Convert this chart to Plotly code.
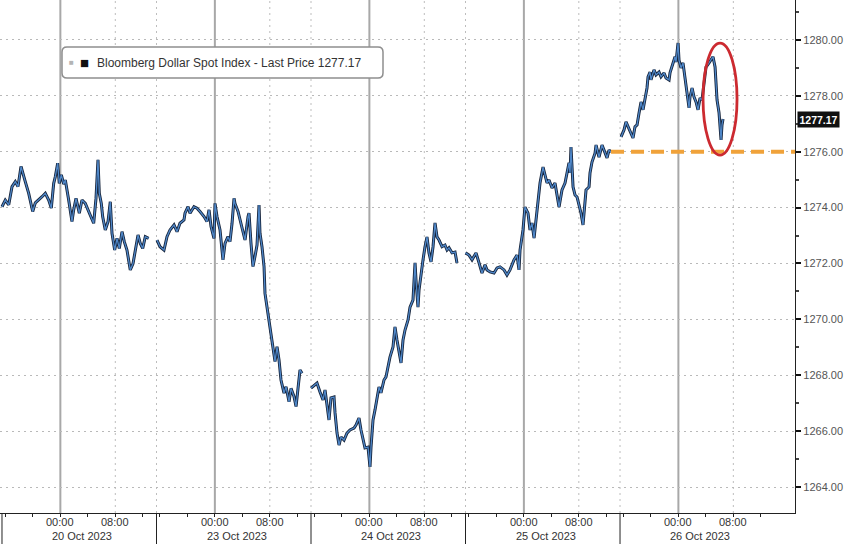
import plotly.graph_objects as go

# ---------------- data ----------------
# Bloomberg Dollar Spot Index, intraday. Hours are measured from each day's session open
# (sessions are drawn 22.5 h wide; 00:00 falls 8.5 h after the open).
day_labels = ["20 Oct 2023", "23 Oct 2023", "24 Oct 2023", "25 Oct 2023", "26 Oct 2023"]

oct20_hours = [0.0, 0.48, 0.98, 1.46, 1.94, 2.33, 2.77, 3.01, 3.39, 3.89, 4.47, 4.85, 5.34, 5.83, 6.31,
               6.80, 7.18, 7.53, 7.76, 8.11, 8.34, 8.64, 8.99, 9.22, 9.71, 10.19, 10.44, 10.78, 11.26, 11.65,
               12.13, 12.63, 13.00, 13.35, 13.69, 13.98, 14.17, 14.46, 14.66, 15.04, 15.44, 15.77, 16.02, 16.41,
               16.75, 17.08, 17.48, 17.81, 18.20, 18.68, 19.08, 19.41, 19.81, 20.14, 20.49, 20.87, 21.36]
oct20_price = [1274.03, 1274.27, 1274.10, 1274.75, 1274.93, 1274.75, 1275.47, 1275.24, 1274.93, 1274.51,
               1273.86, 1274.17, 1274.27, 1274.39, 1274.51, 1274.27, 1273.98, 1274.87, 1275.10, 1275.59,
               1274.87, 1275.17, 1274.84, 1274.99, 1274.27, 1273.50, 1273.92, 1274.33, 1273.80, 1274.27,
               1274.15, 1273.86, 1273.62, 1273.44, 1274.33, 1275.71, 1274.51, 1274.15, 1273.68, 1273.20,
               1273.50, 1274.21, 1273.08, 1272.48, 1272.90, 1272.54, 1273.14, 1272.78, 1272.48, 1271.77,
               1272.00, 1272.48, 1273.02, 1272.72, 1272.54, 1272.96, 1272.90]

oct23_hours = [0.07, 0.51, 1.09, 1.53, 1.97, 2.55, 2.99, 3.42, 4.00, 4.15, 4.59, 4.88, 5.46, 5.90, 6.33,
               6.92, 7.35, 7.65, 7.94, 8.37, 8.52, 8.81, 9.25, 9.54, 9.68, 9.98, 10.41, 10.70, 11.00, 11.29,
               11.43, 11.87, 12.16, 12.60, 12.89, 13.33, 13.47, 13.76, 14.05, 14.34, 14.64, 14.93, 15.07, 15.36,
               15.66, 15.80, 16.09, 16.38, 16.53, 16.97, 17.26, 17.55, 17.84, 18.13, 18.57, 18.86, 19.30, 19.59,
               20.02, 20.32, 20.61, 20.90, 21.19]
oct23_price = [1272.84, 1272.60, 1272.48, 1272.96, 1273.20, 1273.38, 1273.14, 1273.44, 1273.56, 1273.80,
               1274.03, 1273.80, 1274.03, 1273.98, 1273.86, 1273.68, 1273.50, 1273.92, 1273.32, 1272.90,
               1274.15, 1273.68, 1273.20, 1272.54, 1272.13, 1272.72, 1272.96, 1272.78, 1273.44, 1274.33,
               1274.15, 1273.86, 1273.56, 1273.20, 1272.84, 1273.68, 1273.80, 1272.72, 1271.89, 1272.25,
               1272.66, 1274.09, 1273.08, 1272.60, 1271.89, 1270.93, 1270.45, 1269.98, 1269.74, 1269.14,
               1268.49, 1269.02, 1268.55, 1267.83, 1267.36, 1267.59, 1267.05, 1267.53, 1267.24, 1266.88,
               1267.59, 1268.19, 1268.07]

oct24_hours = [0.00, 0.44, 0.87, 1.31, 1.75, 2.04, 2.48, 2.62, 2.91, 3.35, 3.50, 3.79, 4.08, 4.37, 4.81,
               5.24, 5.68, 6.26, 6.55, 6.99, 7.28, 7.57, 7.86, 8.30, 8.59, 8.74, 9.03, 9.32, 9.61, 9.90,
               10.19, 10.63, 10.92, 11.21, 11.50, 11.94, 12.23, 12.52, 12.82, 13.11, 13.40, 13.69, 14.13, 14.42,
               14.85, 15.15, 15.29, 15.58, 15.73, 16.02, 16.31, 16.60, 16.89, 17.18, 17.48, 17.77, 18.06, 18.35,
               18.64, 19.08, 19.51, 19.81, 20.10, 20.53, 20.97, 21.26]
oct24_price = [1267.54, 1267.65, 1267.72, 1267.40, 1267.12, 1267.47, 1266.65, 1266.40, 1267.19, 1267.22,
               1266.65, 1265.93, 1265.50, 1265.79, 1265.68, 1265.93, 1266.04, 1266.11, 1266.22, 1266.47,
               1266.04, 1265.68, 1265.40, 1265.43, 1264.72, 1265.43, 1266.40, 1266.76, 1267.12, 1267.58,
               1267.37, 1267.83, 1267.94, 1268.30, 1268.65, 1269.01, 1269.73, 1269.26, 1268.90, 1268.44,
               1269.26, 1269.62, 1269.98, 1270.44, 1270.69, 1272.02, 1271.41, 1270.44, 1271.05, 1271.66,
               1272.13, 1272.60, 1272.95, 1272.38, 1272.06, 1272.60, 1273.45, 1272.95, 1272.84, 1272.60,
               1272.66, 1272.48, 1272.56, 1272.38, 1272.41, 1272.02]

oct25_hours = [0.00, 0.51, 0.95, 1.53, 1.97, 2.40, 2.84, 3.13, 3.57, 4.15, 4.59, 5.02, 5.61, 6.04, 6.48,
               7.06, 7.50, 7.79, 7.94, 8.37, 8.66, 9.10, 9.39, 9.68, 9.98, 10.27, 10.56, 10.85, 11.29, 11.58,
               11.87, 12.16, 12.60, 13.03, 13.33, 13.62, 14.05, 14.49, 14.78, 15.07, 15.22, 15.36, 15.66, 15.95,
               16.24, 16.53, 16.82, 17.11, 17.40, 17.55, 17.99, 18.13, 18.42, 18.86, 19.01, 19.44, 19.88, 20.31,
               20.61, 20.90, 21.19]
oct25_price = [1272.38, 1272.30, 1272.13, 1272.38, 1272.02, 1271.66, 1271.95, 1271.77, 1271.70, 1271.66,
               1271.84, 1271.88, 1271.77, 1271.59, 1271.77, 1272.13, 1272.30, 1271.77, 1272.48, 1273.20,
               1274.02, 1273.80, 1273.20, 1273.45, 1272.91, 1273.56, 1274.17, 1274.88, 1275.45, 1275.10,
               1274.88, 1274.99, 1274.70, 1274.88, 1274.38, 1274.02, 1274.63, 1274.88, 1275.24, 1275.60,
               1275.24, 1276.17, 1274.74, 1274.45, 1274.38, 1274.10, 1273.80, 1273.38, 1274.10, 1274.63,
               1274.74, 1275.24, 1275.63, 1275.95, 1276.24, 1275.81, 1276.24, 1275.99, 1275.78, 1276.06,
               1275.99]

oct26_hours = [0.15, 0.58, 0.87, 1.17, 1.46, 1.89, 2.18, 2.48, 2.77, 3.06, 3.35, 3.64, 3.93, 4.08, 4.37,
               4.51, 4.95, 5.24, 5.68, 5.97, 6.41, 6.70, 7.14, 7.28, 7.72, 8.01, 8.16, 8.45, 8.59, 8.88,
               9.17, 9.47, 9.76, 10.05, 10.19, 10.49, 10.78, 11.07, 11.36, 11.65, 11.94, 12.23, 12.52, 12.96,
               13.25, 13.54, 13.84, 13.98, 14.13, 14.42, 14.56, 14.71, 14.85, 15.00]
oct26_price = [1276.53, 1276.78, 1277.07, 1276.89, 1276.78, 1276.49, 1276.89, 1276.96, 1277.39, 1277.78,
               1277.50, 1277.85, 1278.28, 1278.68, 1278.85, 1278.57, 1278.93, 1278.75, 1278.85, 1278.68,
               1278.82, 1278.64, 1278.57, 1278.82, 1279.18, 1279.40, 1279.21, 1279.89, 1279.28, 1279.00,
               1279.18, 1278.57, 1277.96, 1277.57, 1277.96, 1278.28, 1277.96, 1277.78, 1277.50, 1277.92,
               1277.85, 1278.46, 1279.03, 1279.18, 1279.28, 1279.40, 1279.03, 1278.46, 1277.85, 1277.39,
               1276.89, 1276.42, 1276.96, 1277.17]

last_price = 1277.17
support_level = 1276.00
y_ticks = [1264, 1266, 1268, 1270, 1272, 1274, 1276, 1278, 1280]
time_tick_labels = ["00:00", "08:00"]
time_tick_offsets = [8.5, 16.5]          # hours after session open
minor_tick_offsets = [0.5, 4.5, 12.5, 20.5]

SESSION = 22.5

day_hours = [oct20_hours, oct23_hours, oct24_hours, oct25_hours, oct26_hours]
day_prices = [oct20_price, oct23_price, oct24_price, oct25_price, oct26_price]

xs, ys = [], []
for d, (hs, ps) in enumerate(zip(day_hours, day_prices)):
    n = min(len(hs), len(ps))
    xs += [d * SESSION + h for h in hs[:n]] + [None]
    ys += list(ps[:n]) + [None]

FONT = "Liberation Sans, Arial, sans-serif"
W, H = 848, 544
ML, MR, MT, MB = 0, 53, 0, 31
PW, PH = W - ML - MR, H - MT - MB

fig = go.Figure()
fig.add_trace(go.Scatter(x=xs, y=ys, mode="lines", line=dict(color="#15233a", width=3.0),
                         connectgaps=False, showlegend=False, hoverinfo="skip"))
fig.add_trace(go.Scatter(x=xs, y=ys, mode="lines", line=dict(color="#4f87c8", width=1.3),
                         connectgaps=False, showlegend=False))

tickvals, ticktext, minorvals = [], [], []
for d in range(len(day_labels)):
    for off, lab in zip(time_tick_offsets, time_tick_labels):
        tickvals.append(d * SESSION + off)
        ticktext.append(lab)
    for off in minor_tick_offsets:
        minorvals.append(d * SESSION + off)

x_lo = -0.29
x_hi = x_lo + PW / 6.867

shapes = []
for d in range(len(day_labels)):
    base = d * SESSION
    shapes.append(dict(type="line", xref="x", yref="paper", x0=base + 8.5, x1=base + 8.5, y0=0, y1=1,
                       line=dict(color="#a8a8a8", width=2), layer="below"))
    shapes.append(dict(type="line", xref="x", yref="paper", x0=base + 16.5, x1=base + 16.5, y0=0, y1=1,
                       line=dict(color="#bdbdbd", width=1, dash="2px,4px"), layer="below"))
    if d > 0:
        shapes.append(dict(type="line", xref="x", yref="paper", x0=base, x1=base, y0=0, y1=1,
                           line=dict(color="#bdbdbd", width=1, dash="2px,4px"), layer="below"))
    shapes.append(dict(type="line", xref="x", yref="paper", x0=base, x1=base, y0=0, y1=-MB / PH,
                       line=dict(color="#222", width=1), layer="above"))

shapes.append(dict(type="line", xref="x", yref="y", x0=3 * SESSION + oct25_hours[-1], x1=x_hi,
                   y0=support_level, y1=support_level,
                   line=dict(color="#f0a23a", width=4, dash="13px,7px"), layer="above"))
shapes.append(dict(type="circle", xref="x", yref="y", x0=4 * SESSION + 12.09, x1=4 * SESSION + 17.04,
                   y0=1275.88, y1=1279.89, line=dict(color="#cc2a30", width=2.8), layer="above"))
shapes.append(dict(type="path", xref="paper", yref="paper", xsizemode="pixel", ysizemode="pixel",
                   xanchor=0, yanchor=1,
                   path="M 67,-47 L 378,-47 Q 383,-47 383,-52 L 383,-73 Q 383,-78 378,-78 "
                        "L 67,-78 Q 62,-78 62,-73 L 62,-52 Q 62,-47 67,-47 Z",
                   line=dict(color="#8e8e8e", width=1.5), fillcolor="white", layer="above"))

annotations = []
for tv, tt in zip(tickvals, ticktext):
    annotations.append(dict(text=tt, xref="x", yref="paper", x=tv, y=0,
                            yanchor="middle", yshift=-8.5, showarrow=False,
                            font=dict(family=FONT, size=11, color="#333")))
for d, lab in enumerate(day_labels):
    annotations.append(dict(text=lab, xref="x", yref="paper", x=d * SESSION + 11.7, y=0,
                            yanchor="middle", yshift=-23, showarrow=False,
                            font=dict(family=FONT, size=11, color="#333")))
annotations.append(dict(text="■", xref="paper", yref="paper", x=71 / PW, y=1 - 62 / PH,
                        xanchor="center", yanchor="middle", showarrow=False,
                        font=dict(family=FONT, size=8, color="#b4b4b4")))
annotations.append(dict(text="■", xref="paper", yref="paper", x=84 / PW, y=1 - 62 / PH,
                        xanchor="center", yanchor="middle", showarrow=False,
                        font=dict(family=FONT, size=15, color="#111")))
annotations.append(dict(text=f"Bloomberg Dollar Spot Index - Last Price {last_price:.2f}",
                        xref="paper", yref="paper", x=95 / PW, y=1 - 62.5 / PH,
                        xanchor="left", yanchor="middle", showarrow=False,
                        font=dict(family=FONT, size=12, color="#333")))
annotations.append(dict(text=f"<b>{last_price:.2f}</b>", xref="paper", yref="y", x=1, y=last_price,
                        xanchor="left", yanchor="middle", xshift=2, showarrow=False,
                        bgcolor="#111", borderpad=1.5,
                        font=dict(family=FONT, size=10.5, color="white")))

fig.update_layout(
    width=W, height=H,
    margin=dict(l=ML, r=MR, t=MT, b=MB),
    paper_bgcolor="white", plot_bgcolor="white",
    showlegend=False,
    shapes=shapes, annotations=annotations,
    xaxis=dict(range=[x_lo, x_hi], tickmode="array", tickvals=tickvals, ticktext=ticktext,
               showticklabels=False,
               ticks="outside", ticklen=3, tickcolor="#222", tickwidth=1,
               showline=True, linecolor="#222", linewidth=1.2, showgrid=False, zeroline=False,
               minor=dict(tickmode="array", tickvals=minorvals, ticks="outside", ticklen=3,
                          tickcolor="#222", showgrid=False),
               automargin=False, fixedrange=True),
    yaxis=dict(side="right", range=[1263.07, 1281.43], tickmode="array", tickvals=y_ticks,
               tickformat=".2f", ticks="outside", ticklen=5, tickwidth=2, tickcolor="#111",
               showline=True, linecolor="#222", linewidth=1.2, mirror=False,
               showgrid=True, gridcolor="#b9b9b9", gridwidth=1, griddash="2px,4px",
               zeroline=False, tickfont=dict(family=FONT, size=11, color="#555"),
               minor=dict(dtick=1, ticks="outside", ticklen=3, tickcolor="#444", showgrid=False),
               automargin=False, fixedrange=True),
)

fig.write_html("out.html", config={"displayModeBar": False})

# remove the browser's default page margin so the figure fills the window exactly
with open("out.html", encoding="utf-8") as f:
    html = f.read()
html = html.replace("<body>", '<body style="margin:0;padding:0;overflow:hidden">', 1)
with open("out.html", "w", encoding="utf-8") as f:
    f.write(html)
